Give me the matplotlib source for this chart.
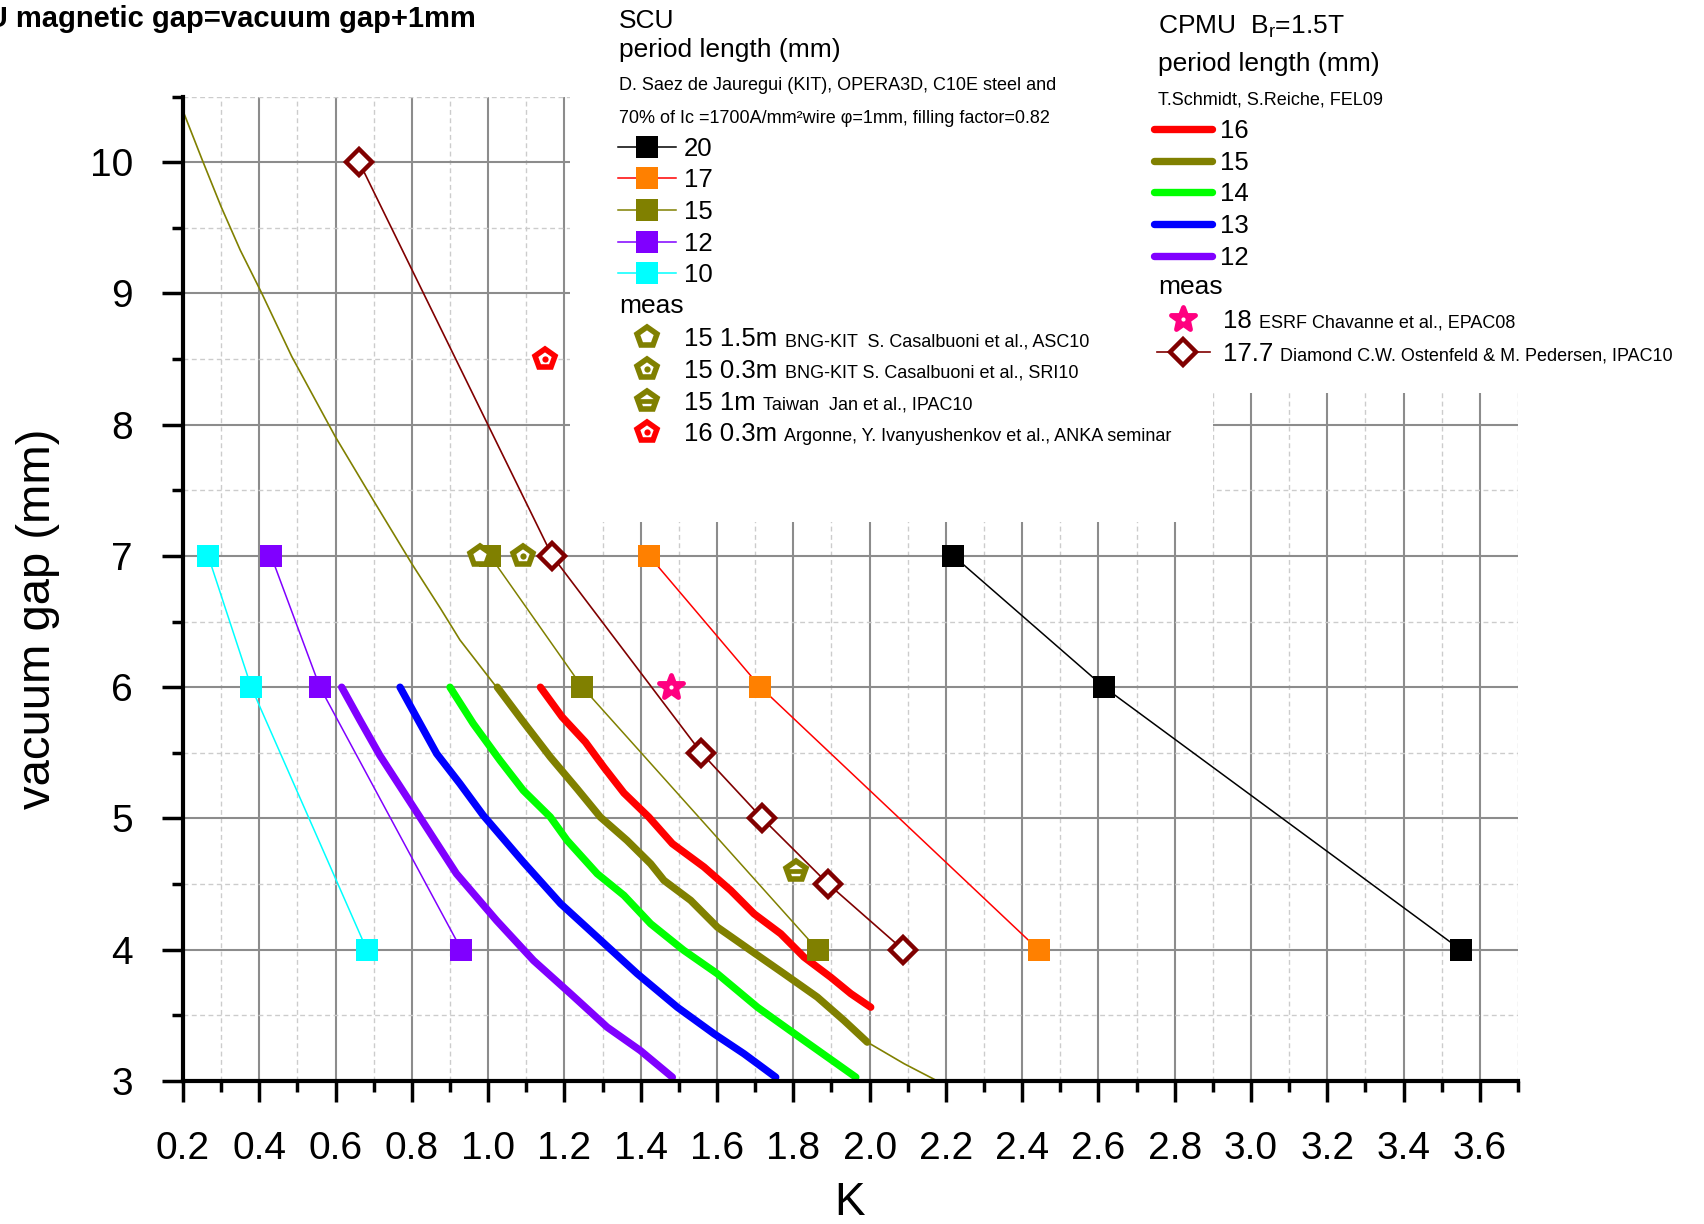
import matplotlib
matplotlib.use("Agg")
import matplotlib.pyplot as plt
from matplotlib.patches import Rectangle
from matplotlib.text import Annotation
from matplotlib.markers import MarkerStyle
from matplotlib.ticker import MultipleLocator, FormatStrFormatter

plt.rcParams['font.family'] = ['Liberation Sans', 'DejaVu Sans']
plt.rcParams['mathtext.fontset'] = 'custom'
plt.rcParams['mathtext.rm'] = 'Liberation Sans'
plt.rcParams['mathtext.it'] = 'Liberation Sans:italic'

# SCU (OPERA3D): K at vacuum gap 7, 6, 4 mm
scu_gap = [7, 6, 4]
scu_k_20 = [2.22, 2.615, 3.55]
scu_k_17 = [1.422, 1.714, 2.443]
scu_k_15 = [1.005, 1.247, 1.864]
scu_k_12 = [0.431, 0.559, 0.930]
scu_k_10 = [0.266, 0.379, 0.682]
scu_labels = ["20", "17", "15", "12", "10"]

# CPMU Br=1.5T (Schmidt/Reiche)
cpmu16_k = [1.137, 1.194, 1.255, 1.303, 1.356, 1.421, 1.483, 1.566, 1.636, 1.697, 1.767, 1.828, 1.898, 1.951, 2.003]
cpmu16_gap = [6.0, 5.773, 5.582, 5.392, 5.194, 5.011, 4.808, 4.63, 4.452, 4.274, 4.122, 3.944, 3.791, 3.665, 3.562]
cpmu15_k = [1.024, 1.089, 1.163, 1.233, 1.294, 1.364, 1.426, 1.461, 1.531, 1.601, 1.688, 1.776, 1.863, 1.933, 1.994]
cpmu15_gap = [6.0, 5.748, 5.468, 5.227, 5.011, 4.833, 4.655, 4.528, 4.376, 4.172, 3.995, 3.817, 3.639, 3.461, 3.296]
cpmu14_k = [0.900, 0.961, 1.031, 1.092, 1.163, 1.207, 1.286, 1.356, 1.426, 1.513, 1.601, 1.706, 1.828, 1.964]
cpmu14_gap = [6.0, 5.722, 5.443, 5.214, 5.011, 4.833, 4.579, 4.414, 4.198, 3.995, 3.817, 3.562, 3.309, 3.029]
cpmu13_k = [0.769, 0.812, 0.865, 0.926, 0.987, 1.092, 1.190, 1.286, 1.391, 1.496, 1.592, 1.671, 1.754]
cpmu13_gap = [6.0, 5.773, 5.494, 5.265, 5.024, 4.668, 4.351, 4.096, 3.817, 3.562, 3.360, 3.207, 3.029]
cpmu12_k = [0.616, 0.664, 0.716, 0.804, 0.917, 1.022, 1.119, 1.216, 1.312, 1.399, 1.483]
cpmu12_gap = [6.0, 5.748, 5.481, 5.087, 4.579, 4.223, 3.918, 3.665, 3.410, 3.232, 3.029]
cpmu_labels = ["16", "15", "14", "13", "12"]

# long thin olive curve
olive_k = [0.200, 0.250, 0.300, 0.350, 0.405, 0.485, 0.599, 0.704, 0.800, 0.875, 0.926, 1.022, 1.089, 1.163, 1.233,
           1.294, 1.364, 1.426, 1.461, 1.531, 1.601, 1.688, 1.776, 1.863, 1.933, 1.994, 2.091, 2.178]
olive_gap = [10.39, 10.02, 9.66, 9.33, 9.01, 8.52, 7.91, 7.40, 6.94, 6.60, 6.36, 6.0, 5.748, 5.468, 5.227,
             5.011, 4.833, 4.655, 4.528, 4.376, 4.172, 3.995, 3.817, 3.639, 3.461, 3.296, 3.131, 3.0]

# measurements
dia_k = [0.662, 1.168, 1.559, 1.719, 1.892, 2.088]
dia_gap = [10, 7, 5.5, 5, 4.5, 4]
meas_k = [0.978, 1.092, 1.806, 1.148]
meas_gap = [7, 7, 4.6, 8.5]
meas_labels = ["15 1.5m", "15 0.3m", "15 1m", "16 0.3m"]
meas_notes = ["BNG-KIT  S. Casalbuoni et al., ASC10", "BNG-KIT S. Casalbuoni et al., SRI10",
              "Taiwan  Jan et al., IPAC10", "Argonne, Y. Ivanyushenkov et al., ANKA seminar"]
esrf_k = [1.479]
esrf_gap = [6]

W, H = 1704, 1224
fig = plt.figure(figsize=(W / 100, H / 100), dpi=100)
ax = fig.add_axes([183 / W, 1 - 1081 / H, 1335 / W, 984.5 / H])
ax.set_xlim(0.2, 3.7)
ax.set_ylim(3, 10.5)

olive = '#808000'
ax.plot(olive_k, olive_gap, color=olive, lw=1.2, zorder=2, solid_joinstyle='round')

scu_lines = []
for k, lc, mc in [(scu_k_20, 'black', 'black'), (scu_k_17, '#ff0000', '#ff8000'),
                  (scu_k_15, olive, olive), (scu_k_12, '#8000ff', '#8000ff'),
                  (scu_k_10, '#00ffff', '#00ffff')]:
    ln, = ax.plot(k, scu_gap, color=lc, lw=1.1, marker='s', ms=15.5, mfc=mc, mew=0, zorder=3)
    scu_lines.append(ln)

cpmu_lines = []
for k, g, c in [(cpmu16_k, cpmu16_gap, '#ff0000'), (cpmu15_k, cpmu15_gap, olive),
                (cpmu14_k, cpmu14_gap, '#00ff00'), (cpmu13_k, cpmu13_gap, '#0000ff'),
                (cpmu12_k, cpmu12_gap, '#8000ff')]:
    ln, = ax.plot(k, g, color=c, lw=5.3, solid_capstyle='round', solid_joinstyle='round', zorder=2.5)
    cpmu_lines.append(ln)

dia_line, = ax.plot(dia_k, dia_gap, color='#800000', lw=1.2, marker='D', ms=13, mfc='white',
                    mec='#800000', mew=3.2, zorder=4)

pent = dict(ls='none', marker='p', ms=15, mfc='white', mew=4, zorder=4)
dot = dict(ls='none', marker='o', ms=4.5, mew=0, zorder=4.1)
p1, = ax.plot(meas_k[0:1], meas_gap[0:1], mec=olive, **pent)
p2, = ax.plot(meas_k[1:2], meas_gap[1:2], mec=olive, **pent)
d2, = ax.plot(meas_k[1:2], meas_gap[1:2], mfc=olive, **dot)
p3, = ax.plot(meas_k[2:3], meas_gap[2:3], mec=olive, **pent)
b3, = ax.plot(meas_k[2:3], meas_gap[2:3], ls='none', marker='_', ms=13, mew=3.4, color=olive, zorder=4.1)
p4, = ax.plot(meas_k[3:4], meas_gap[3:4], mec='#ff0000', **pent)
d4, = ax.plot(meas_k[3:4], meas_gap[3:4], mfc='#ff0000', **dot)

pink = '#ff0080'
star, = ax.plot(esrf_k, esrf_gap, ls='none', marker=MarkerStyle('*', joinstyle='round'), ms=18,
                mfc=pink, mec=pink, mew=3.5, zorder=4)
sdot, = ax.plot(esrf_k, esrf_gap, ls='none', marker='o', ms=3, mfc='white', mew=0, zorder=4.1)

# axes styling
ax.xaxis.set_major_locator(MultipleLocator(0.2))
ax.xaxis.set_minor_locator(MultipleLocator(0.1))
ax.yaxis.set_major_locator(MultipleLocator(1))
ax.yaxis.set_minor_locator(MultipleLocator(0.5))
ax.xaxis.set_major_formatter(FormatStrFormatter('%.1f'))
ax.yaxis.set_major_formatter(FormatStrFormatter('%d'))
ax.set_axisbelow(True)
ax.grid(which='major', color='#8c8c8c', lw=1.5)
ax.grid(which='minor', color='#cccccc', lw=1.0, ls=(0, (3.5, 2.5)))
for s in ['top', 'right']:
    ax.spines[s].set_visible(False)
for s in ['left', 'bottom']:
    ax.spines[s].set_linewidth(3)
ax.tick_params(which='major', direction='out', length=15, width=2.5, labelsize=28, pad=21)
ax.tick_params(which='minor', direction='out', length=8, width=2.5)
ax.set_xlabel('K', fontsize=33)
ax.xaxis.set_label_coords(0.4996, -0.1015)
ax.set_ylabel('vacuum gap (mm)', fontsize=34)
ax.yaxis.set_label_coords(-0.092, 0.469)

# white backgrounds behind the legend blocks
for x0, x1, y1 in [(570, 1213, 522), (1150, W, 393)]:
    ax.add_patch(Rectangle((x0 / W, 1 - y1 / H), (x1 - x0) / W, y1 / H, transform=fig.transFigure,
                           facecolor='white', edgecolor='none', zorder=4.5, clip_on=False))


def ftext(x, y, s, size, **kw):
    fig.text(x / W, 1 - y / H, s, fontsize=size, va='baseline', ha='left', **kw)


# title is cut by the left edge, as in the original
fig.text(476 / W, 1 - 26.7 / H, "CPMU magnetic gap=vacuum gap+1mm", fontsize=21,
         fontweight='bold', ha='right', va='baseline')

ftext(619, 28, "SCU", 19)
ftext(619, 57.5, "period length (mm)", 19)
ftext(619, 89.5, "D. Saez de Jauregui (KIT), OPERA3D, C10E steel and", 13)
ftext(619, 123.3, "70% of Ic =1700A/mm\u00b2wire \u03c6=1mm, filling factor=0.82", 13)
ftext(619, 313.3, "meas", 19)

ftext(1158.5, 33.4, r"CPMU  B$_\mathrm{r}$=1.5T", 19)
ftext(1158.5, 71.5, "period length (mm)", 19)
ftext(1158.5, 104.8, "T.Schmidt, S.Reiche, FEL09", 13)
ftext(1158.5, 294.5, "meas", 19)

common = dict(loc='upper left', frameon=False, fontsize=18.5, borderpad=0, borderaxespad=0,
              numpoints=1)
leg1 = fig.legend(scu_lines, scu_labels, bbox_to_anchor=(618.3 / W, 1 - 136.5 / H),
                  handlelength=2.24, handletextpad=0.3, labelspacing=0.3, **common)
leg2 = fig.legend([p1, (p2, d2), (p3, b3), (p4, d4)], meas_labels,
                  bbox_to_anchor=(618.3 / W, 1 - 327.2 / H),
                  handlelength=2.24, handletextpad=0.33, labelspacing=0.3, **common)
leg3 = fig.legend(cpmu_lines, cpmu_labels, bbox_to_anchor=(1154 / W, 1 - 118.8 / H),
                  handlelength=2.25, handletextpad=0.3, labelspacing=0.3, **common)
leg4 = fig.legend([(star, sdot), dia_line], ["18", "17.7"], bbox_to_anchor=(1156.7 / W, 1 - 308.8 / H),
                  handlelength=2.08, handletextpad=0.5, labelspacing=0.34, **common)


def add_note(txt, note):
    a = Annotation(note, xy=(1, 0), xycoords=txt, xytext=(7, 1), textcoords='offset pixels',
                   fontsize=13, va='bottom', ha='left')
    a.set_zorder(10)
    fig.add_artist(a)


for t, note in zip(leg2.get_texts(), meas_notes):
    add_note(t, note)
for t, note in zip(leg4.get_texts(), ["ESRF Chavanne et al., EPAC08",
                                      "Diamond C.W. Ostenfeld & M. Pedersen, IPAC10"]):
    add_note(t, note)

fig.savefig("out.png", dpi=100)
